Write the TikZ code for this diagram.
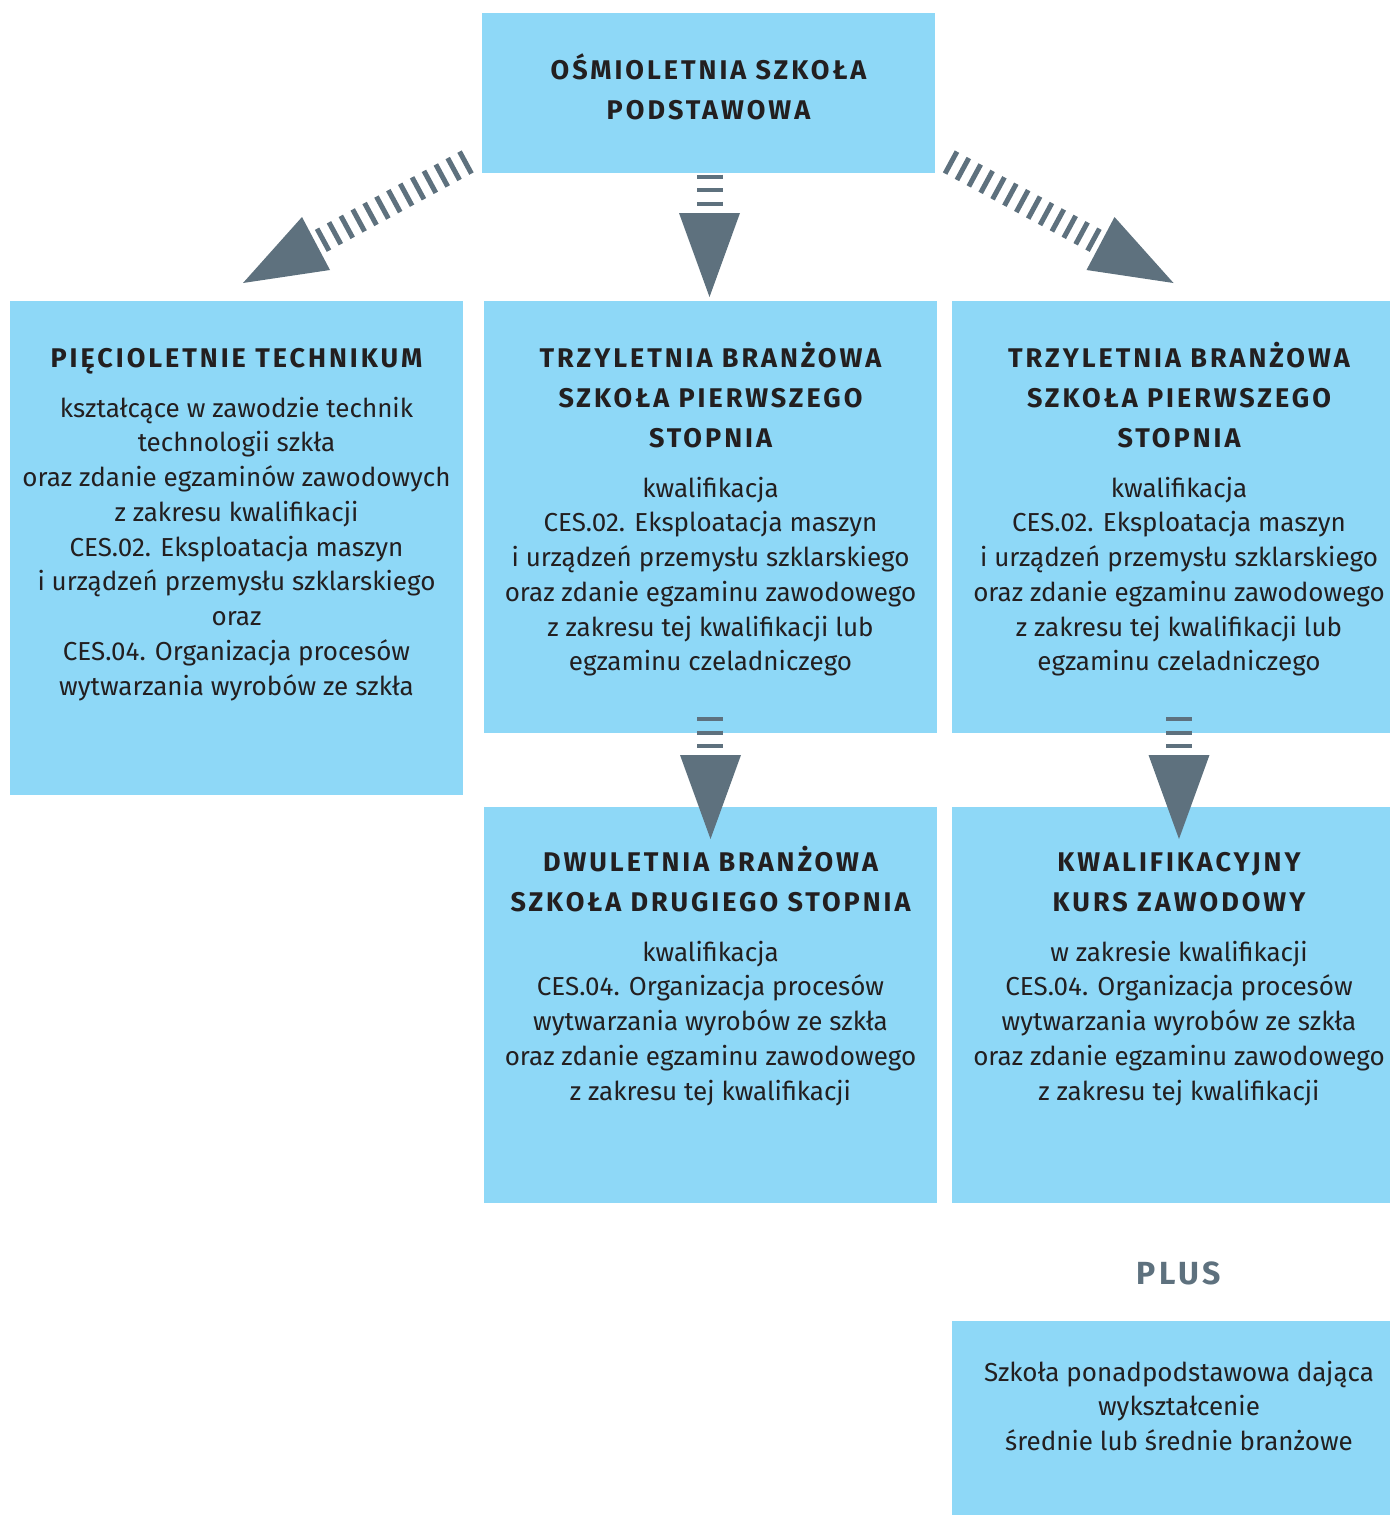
\documentclass[tikz,border=0pt]{standalone}
\usepackage{fontspec}
\setmainfont{Fira Sans}
\newfontfamily\headfont{Fira Sans}[LetterSpace=11]
\definecolor{boxc}{HTML}{8ED8F7}
\definecolor{arrc}{HTML}{5E717E}
\definecolor{txtc}{HTML}{231F20}
\tikzset{
  box/.style={fill=boxc, draw=none, anchor=north west, inner sep=0pt, outer sep=0pt},
  headtxt/.style={font=\headfont\bfseries\fontsize{13.5}{20}\selectfont, text=txtc, align=center, anchor=base, inner sep=0pt},
  bodytxt/.style={font=\fontsize{13}{17.375}\selectfont, text=txtc, align=center, anchor=base, inner sep=0pt},
  plustxt/.style={font=\headfont\bfseries\fontsize{16}{18}\selectfont, text=arrc, anchor=base, inner sep=0pt},
  bars/.style={draw=arrc, line width=12.5pt, dash pattern=on 2.5pt off 4.25pt},
  vbars/.style={draw=arrc, line width=13pt, dash pattern=on 2pt off 4.75pt},
  arrhead/.style={fill=arrc, draw=none}
}
\begin{document}
\begin{tikzpicture}[x=0.5pt,y=-0.5pt]
\useasboundingbox (0,0) rectangle (1391,1515);
% boxes
\node[box, minimum width=226.5pt, minimum height=80pt] (top) at (482,13) {};
\node[box, minimum width=226.5pt, minimum height=247pt] (tech) at (10,301) {};
\node[box, minimum width=226.5pt, minimum height=216pt] (mid) at (484,301) {};
\node[box, minimum width=219pt, minimum height=216pt] (right) at (952,301) {};
\node[box, minimum width=226.5pt, minimum height=198pt] (midb) at (484,807) {};
\node[box, minimum width=219pt, minimum height=198pt] (rightb) at (952,807) {};
\node[box, minimum width=219pt, minimum height=97pt] (bottom) at (952,1321) {};
% texts (anchor base = baseline of the last line)
\node[headtxt] (topT) at (708.5,119) {OŚMIOLETNIA SZKOŁA\\PODSTAWOWA};
\node[headtxt] (techH) at (236.5,367) {PIĘCIOLETNIE TECHNIKUM};
\node[bodytxt] (techB) at (236.5,695) {kształcące w zawodzie technik\\technologii szkła\\oraz zdanie egzaminów zawodowych\\z zakresu kwalifikacji\\CES.02. Eksploatacja maszyn\\i urządzeń przemysłu szklarskiego\\oraz\\CES.04. Organizacja procesów\\wytwarzania wyrobów ze szkła};
\node[headtxt] (midH) at (710.5,447) {TRZYLETNIA BRANŻOWA\\SZKOŁA PIERWSZEGO\\STOPNIA};
\node[bodytxt] (midB) at (710.5,670.75) {kwalifikacja\\CES.02. Eksploatacja maszyn\\i urządzeń przemysłu szklarskiego\\oraz zdanie egzaminu zawodowego\\z zakresu tej kwalifikacji lub\\egzaminu czeladniczego};
\node[headtxt] (rightH) at (1179,447) {TRZYLETNIA BRANŻOWA\\SZKOŁA PIERWSZEGO\\STOPNIA};
\node[bodytxt] (rightB) at (1179,670.75) {kwalifikacja\\CES.02. Eksploatacja maszyn\\i urządzeń przemysłu szklarskiego\\oraz zdanie egzaminu zawodowego\\z zakresu tej kwalifikacji lub\\egzaminu czeladniczego};
\node[headtxt] (midbH) at (710.5,911) {DWULETNIA BRANŻOWA\\SZKOŁA DRUGIEGO STOPNIA};
\node[bodytxt] (midbB) at (710.5,1100) {kwalifikacja\\CES.04. Organizacja procesów\\wytwarzania wyrobów ze szkła\\oraz zdanie egzaminu zawodowego\\z zakresu tej kwalifikacji};
\node[headtxt] (rightbH) at (1179,911) {KWALIFIKACYJNY\\KURS ZAWODOWY};
\node[bodytxt] (rightbB) at (1179,1100) {w zakresie kwalifikacji\\CES.04. Organizacja procesów\\wytwarzania wyrobów ze szkła\\oraz zdanie egzaminu zawodowego\\z zakresu tej kwalifikacji};
\node[plustxt] (plus) at (1179,1284) {PLUS};
\node[bodytxt] (bottomB) at (1179,1450.5) {Szkoła ponadpodstawowa dająca\\wykształcenie\\średnie lub średnie branżowe};
% arrow coordinates
\coordinate (aLs) at (467.7,161.4);
\coordinate (aLe) at (320.8,240.9);
\coordinate (aRs) at (948.8,161.4);
\coordinate (aRe) at (1095.7,240.9);
\coordinate (aMs) at (709.5,174.5);
\coordinate (aMe) at (709.5,206.5);
\coordinate (aM2s) at (710,717);
\coordinate (aM2e) at (710,749);
\coordinate (aR2s) at (1179,717);
\coordinate (aR2e) at (1179,749);
% arrows top -> three schools
\draw[bars] (aLs) -- (aLe);
\fill[arrhead] (302,217) -- (330,270) -- (243,283) -- cycle;
\draw[bars] (aRs) -- (aRe);
\fill[arrhead] (1114.5,217) -- (1086.5,270) -- (1173.5,283) -- cycle;
\draw[vbars] (aMs) -- (aMe);
\fill[arrhead] (679,213) -- (740,213) -- (709.5,297) -- cycle;
% arrows to second level
\draw[vbars] (aM2s) -- (aM2e);
\fill[arrhead] (680,755) -- (741,755) -- (710.5,839) -- cycle;
\draw[vbars] (aR2s) -- (aR2e);
\fill[arrhead] (1148.5,755) -- (1209.5,755) -- (1179,839) -- cycle;
\end{tikzpicture}
\end{document}
